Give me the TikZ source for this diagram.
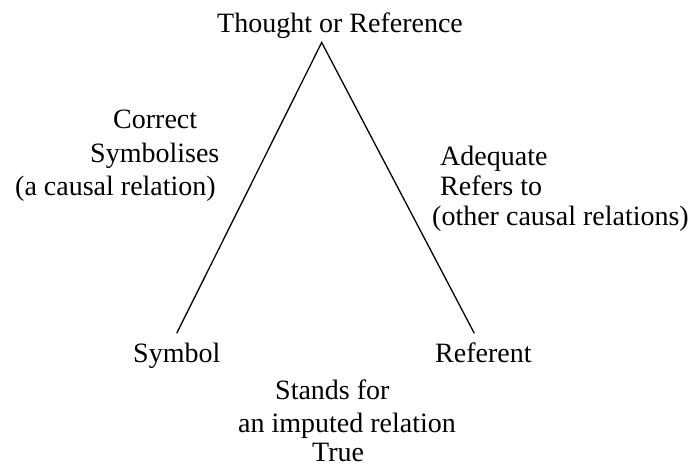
\documentclass[tikz,border=0pt]{standalone}
\usepackage{fontspec}
\setmainfont{Liberation Serif}
\newfontfamily\timesfont{Liberation Serif}
\begin{document}
\begin{tikzpicture}[x=1pt,y=-1pt,
  lbl/.style={anchor=base west,inner sep=0pt,font=\timesfont\fontsize{28}{34}\selectfont},
  edge/.style={line width=1.3pt,black}]
\useasboundingbox (0,0) rectangle (691,466);
\coordinate (apex) at (321.7,42.5);
\coordinate (lend) at (176.7,333.3);
\coordinate (rend) at (474.3,333.3);
\draw[edge] (lend) -- (apex) -- (rend);
\node[lbl] (thought) at (217,32) {Thought or Reference};
\node[lbl] (correct) at (113,128) {Correct};
\node[lbl] (symbolises) at (90,162) {Symbolises};
\node[lbl] (acausal) at (15,195) {(a causal relation)};
\node[lbl] (adequate) at (440,165) {Adequate};
\node[lbl] (refersto) at (440,195) {Refers to};
\node[lbl] (other) at (432,225) {(other causal relations)};
\node[lbl] (symbol) at (133,362) {Symbol};
\node[lbl] (referent) at (435,362) {Referent};
\node[lbl] (stands) at (275,399) {Stands for};
\node[lbl] (imputed) at (238,432) {an imputed relation};
\node[lbl] (true) at (312,461) {True};
\end{tikzpicture}
\end{document}
